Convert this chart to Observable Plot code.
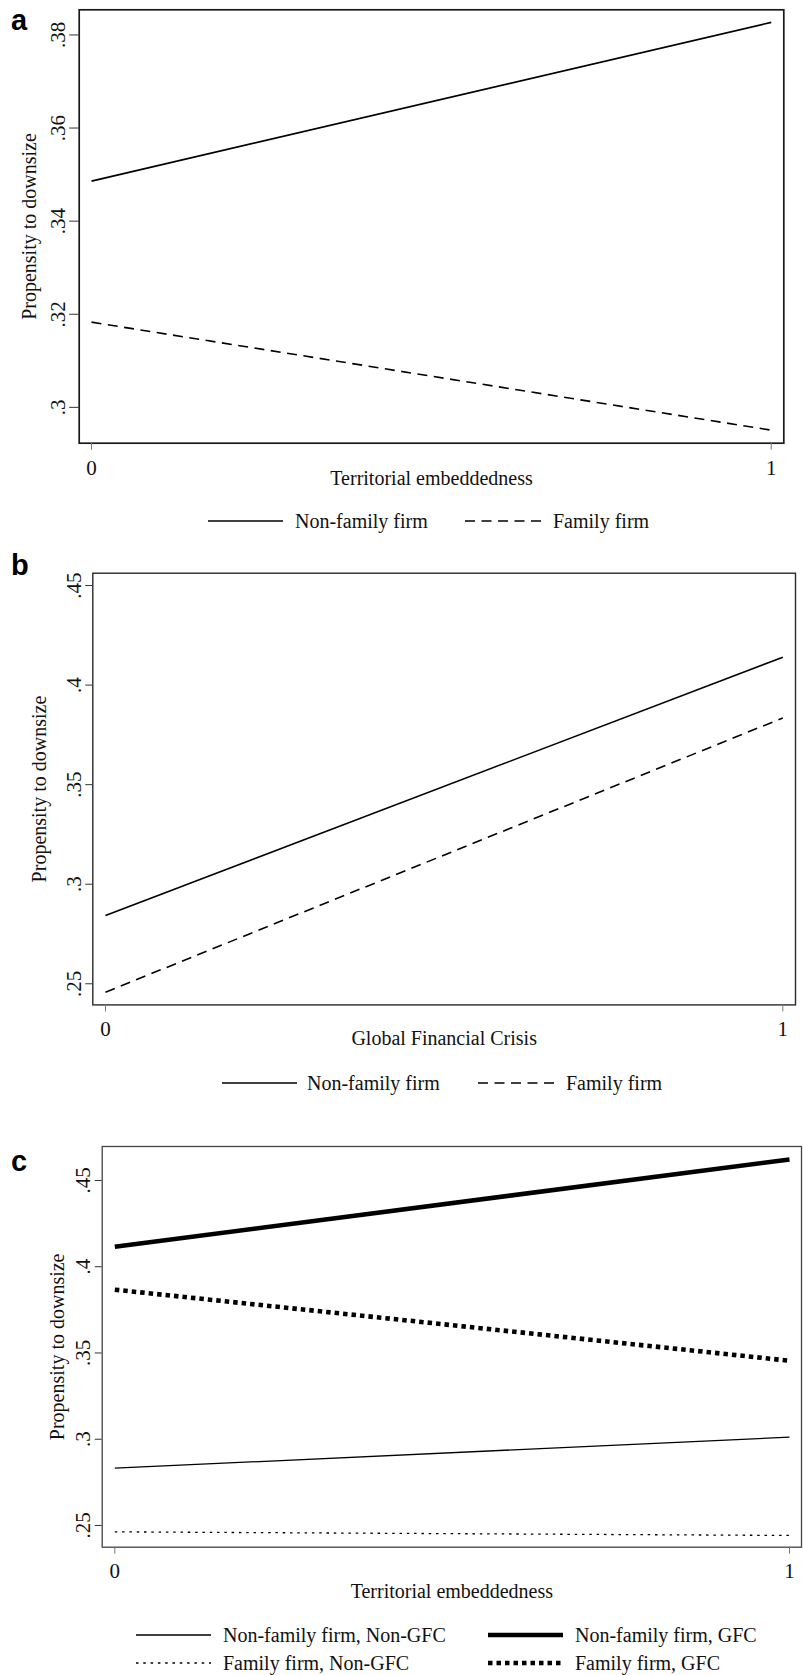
<!DOCTYPE html>
<html>
<head>
<meta charset="utf-8">
<script src="https://cdn.jsdelivr.net/npm/d3@7"></script>
<script src="https://cdn.jsdelivr.net/npm/@observablehq/plot@0.6"></script>
<style>
  html, body { margin: 0; padding: 0; background: #fff; }
  #page { position: relative; width: 803px; height: 1675px; overflow: hidden;
          font-family: "Liberation Serif", "Times New Roman", serif; color: #111; }
  .panel { position: absolute; left: 0; }
  .tag { position: absolute; font-family: "Liberation Sans", Arial, sans-serif; font-weight: bold;
         font-size: 29px; line-height: 29px; color: #000; }
  .lgtext { position: absolute; font-size: 20px; line-height: 20px; white-space: nowrap; color: #111; }
  .swatch { position: absolute; overflow: visible; }
</style>
</head>
<body>
<div id="page"></div>
<script>
// ---------------- data ----------------
const xLevels = [0, 1];
const yTitle = "Propensity to downsize";

// Panel a: Territorial embeddedness x family firm
const aLabelX = "Territorial embeddedness";
const aYTicks = [0.30, 0.32, 0.34, 0.36, 0.38];
const aNonFamily = [0.3486, 0.3827];
const aFamily = [0.3183, 0.2951];

// Panel b: Global Financial Crisis x family firm
const bLabelX = "Global Financial Crisis";
const bYTicks = [0.25, 0.30, 0.35, 0.40, 0.45];
const bNonFamily = [0.2843, 0.4140];
const bFamily = [0.2458, 0.3835];

// Panel c: Territorial embeddedness x family firm x GFC
const cLabelX = "Territorial embeddedness";
const cYTicks = [0.25, 0.30, 0.35, 0.40, 0.45];
const cNonFamilyNonGFC = [0.2832, 0.3012];
const cFamilyNonGFC = [0.2463, 0.2442];
const cNonFamilyGFC = [0.4116, 0.4622];
const cFamilyGFC = [0.3867, 0.3455];

const seriesNamesAB = ["Non-family firm", "Family firm"];
const seriesNamesC = ["Non-family firm, Non-GFC", "Family firm, Non-GFC", "Non-family firm, GFC", "Family firm, GFC"];

// ---------------- styles ----------------
const solidThin = {w: 1.6, dash: null};
const dashed = {w: 1.6, dash: "10,6.5"};
const cThinSolid = {w: 1.3, dash: null};
const cThinDot = {w: 1.3, dash: "2.5,4.8"};
const cThickSolid = {w: 4.6, dash: null};
const cThickDot = {w: 4.6, dash: "4.5,4"};

const fmtY = d => d3.format(".2~f")(d).replace(/^0(?=\.)/, "");
const page = document.getElementById("page");

function makePanel(cfg) {
  const svg = Plot.plot({
    width: 803,
    height: cfg.height,
    marginTop: cfg.mt, marginRight: cfg.mr, marginBottom: cfg.mb, marginLeft: cfg.ml,
    style: {fontFamily: "'Liberation Serif', 'Times New Roman', serif", fontSize: "20px",
            color: "#111", background: "transparent"},
    x: {domain: cfg.xDomain},
    y: {domain: cfg.yDomain},
    marks: [
      Plot.frame({stroke: cfg.frameColor, strokeWidth: cfg.frameWidth}),
      Plot.axisX({ticks: xLevels, tickSize: 7, tickPadding: cfg.xPad, tickFormat: d => String(d),
                  stroke: "#777", fontSize: 21, label: null}),
      Plot.axisX({ticks: [], label: cfg.xLabel, labelAnchor: "center",
                  labelOffset: cfg.xLabelOffset, labelArrow: false, fontSize: 20}),
      Plot.axisY({ticks: cfg.yTicks, tickSize: cfg.yTickSize, tickPadding: cfg.yPad, tickRotate: -90,
                  tickFormat: fmtY, stroke: "#333", fontSize: 21, label: null}),
      Plot.axisY({ticks: [], label: yTitle, labelAnchor: "center",
                  labelOffset: cfg.yLabelOffset, labelArrow: false, fontSize: 20}),
      ...cfg.series.map(s => Plot.line(
        xLevels.map((x, i) => ({x, y: s.values[i], name: s.name})),
        {x: "x", y: "y", stroke: "#000", strokeWidth: s.style.w,
         strokeDasharray: s.style.dash, strokeLinecap: "butt"}))
    ]
  });
  svg.classList.add("panel");
  svg.style.top = cfg.top + "px";
  page.appendChild(svg);
}

function addTag(text, left, top) {
  const d = document.createElement("div");
  d.className = "tag"; d.textContent = text;
  d.style.left = left + "px"; d.style.top = top + "px";
  page.appendChild(d);
}

function addLegendItem(item) {
  const len = item.x1 - item.x0;
  const sw = d3.create("svg").attr("class", "swatch")
    .attr("width", len).attr("height", 12)
    .style("left", item.x0 + "px").style("top", (item.cy - 6) + "px");
  sw.append("line").attr("x1", 0).attr("x2", len).attr("y1", 6).attr("y2", 6)
    .attr("stroke", "#000").attr("stroke-width", item.style.w)
    .attr("stroke-dasharray", item.style.dash);
  page.appendChild(sw.node());
  const t = document.createElement("div");
  t.className = "lgtext"; t.textContent = item.name;
  t.style.left = item.tx + "px"; t.style.top = (item.cy - 10) + "px";
  page.appendChild(t);
}

// ---------------- panel a ----------------
makePanel({
  top: 0, height: 505, mt: 9.3, mr: 19.7, mb: 62.3, ml: 78.7,
  xDomain: [-0.0181, 1.0185], yDomain: [0.2923, 0.3854],
  yTicks: aYTicks, xLabel: aLabelX,
  frameColor: "#1a1a1a", frameWidth: 1.7,
  xPad: 10, xLabelOffset: 41.5, yTickSize: 9.5, yPad: 4.5, yLabelOffset: 57.5,
  series: [
    {name: seriesNamesAB[0], values: aNonFamily, style: solidThin},
    {name: seriesNamesAB[1], values: aFamily, style: dashed}
  ]
});
addTag("a", 11, 5.5);
addLegendItem({name: seriesNamesAB[0], style: solidThin, x0: 208, x1: 283, tx: 295, cy: 521});
addLegendItem({name: seriesNamesAB[1], style: dashed, x0: 465, x1: 542, tx: 553, cy: 521});

// ---------------- panel b ----------------
makePanel({
  top: 540, height: 510, mt: 32.7, mr: 8, mb: 45.6, ml: 92.3,
  xDomain: [-0.01875, 1.01875], yDomain: [0.2394, 0.4562],
  yTicks: bYTicks, xLabel: bLabelX,
  frameColor: "#2a2a2a", frameWidth: 1.4,
  xPad: 9.5, xLabelOffset: 40, yTickSize: 7, yPad: 5, yLabelOffset: 61.5,
  series: [
    {name: seriesNamesAB[0], values: bNonFamily, style: solidThin},
    {name: seriesNamesAB[1], values: bFamily, style: dashed}
  ]
});
addTag("b", 11, 550.5);
addLegendItem({name: seriesNamesAB[0], style: solidThin, x0: 222, x1: 297, tx: 307, cy: 1083});
addLegendItem({name: seriesNamesAB[1], style: dashed, x0: 478, x1: 554, tx: 566, cy: 1083});

// ---------------- panel c ----------------
makePanel({
  top: 1100, height: 510, mt: 46, mr: 2, mb: 63.3, ml: 101.7,
  xDomain: [-0.0187, 1.0178], yDomain: [0.2374, 0.4697],
  yTicks: cYTicks, xLabel: cLabelX,
  frameColor: "#444", frameWidth: 1.3,
  xPad: 8.5, xLabelOffset: 50.5, yTickSize: 7, yPad: 5.2, yLabelOffset: 52,
  series: [
    {name: seriesNamesC[0], values: cNonFamilyNonGFC, style: cThinSolid},
    {name: seriesNamesC[1], values: cFamilyNonGFC, style: cThinDot},
    {name: seriesNamesC[2], values: cNonFamilyGFC, style: cThickSolid},
    {name: seriesNamesC[3], values: cFamilyGFC, style: cThickDot}
  ]
});
addTag("c", 11, 1147);
addLegendItem({name: seriesNamesC[0], style: cThinSolid, x0: 136, x1: 211, tx: 223, cy: 1635});
addLegendItem({name: seriesNamesC[2], style: cThickSolid, x0: 488, x1: 563, tx: 575, cy: 1635});
addLegendItem({name: seriesNamesC[1], style: cThinDot, x0: 136, x1: 211, tx: 223, cy: 1663});
addLegendItem({name: seriesNamesC[3], style: cThickDot, x0: 488, x1: 563, tx: 575, cy: 1663});
</script>
</body>
</html>
